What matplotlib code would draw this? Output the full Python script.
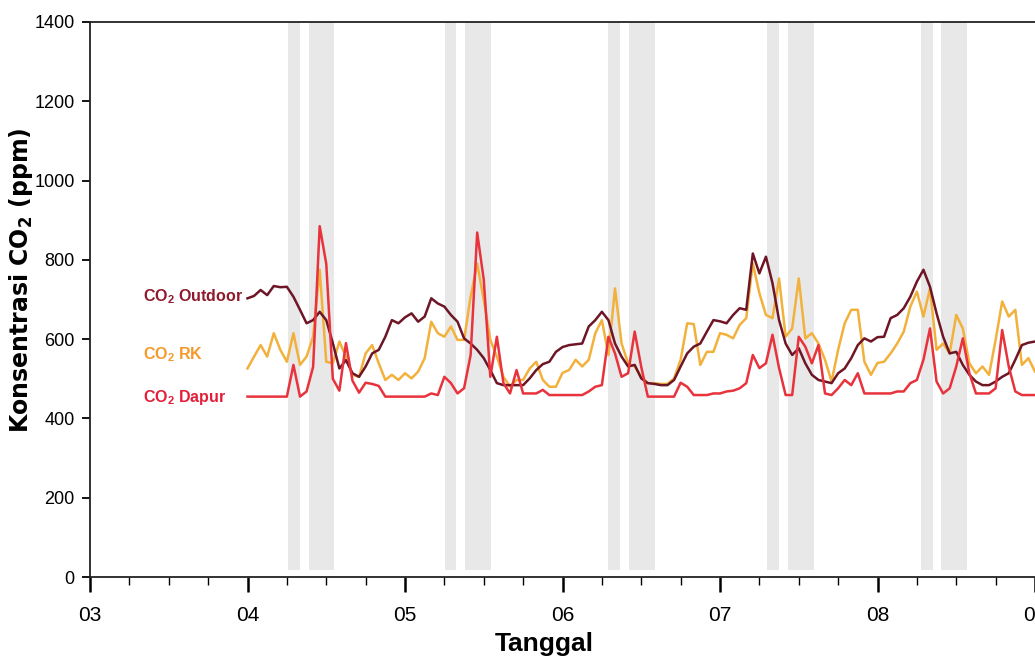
import numpy as np
import matplotlib
matplotlib.use('Agg')
import matplotlib.pyplot as plt
from matplotlib.ticker import MultipleLocator

plt.rcParams['mathtext.default'] = 'regular'

# hourly readings, 4th 00:00 -> 9th 00:00
dapur = [455, 455, 455, 455, 455, 455, 455, 535, 455, 468, 530, 885, 790, 500, 470, 590, 495, 465, 490, 487, 482, 455, 455, 455,
         455, 455, 455, 455, 463, 459, 505, 489, 463, 476, 560, 869, 750, 505, 606, 489, 463, 522, 463, 463, 463, 472, 459, 459,
         459, 459, 459, 459, 468, 480, 484, 606, 564, 505, 514, 619, 530, 455, 455, 455, 455, 455, 490, 480, 459, 459, 459, 463,
         463, 468, 470, 476, 489, 560, 527, 539, 611, 527, 459, 459, 606, 581, 539, 585, 463, 459, 476, 497, 484, 514, 463, 463,
         463, 463, 463, 468, 468, 489, 497, 548, 627, 493, 463, 476, 531, 602, 514, 463, 463, 463, 476, 623, 531, 468, 459, 459,
         459]
outdoor = [703, 709, 724, 711, 734, 731, 732, 707, 674, 640, 648, 669, 648, 590, 526, 547, 514, 505, 531, 564, 573, 606, 648, 640,
           655, 665, 644, 657, 703, 690, 682, 661, 644, 602, 589, 573, 552, 522, 489, 484, 484, 484, 484, 501, 522, 537, 543, 568,
           580, 585, 587, 589, 632, 648, 669, 648, 589, 556, 531, 535, 501, 489, 487, 484, 484, 497, 531, 564, 581, 589, 619, 648,
           645, 640, 661, 678, 674, 816, 766, 808, 741, 648, 589, 560, 577, 539, 510, 497, 493, 489, 514, 526, 552, 585, 602, 594,
           605, 606, 653, 661, 678, 707, 745, 775, 732, 665, 606, 564, 568, 535, 510, 493, 484, 484, 493, 505, 514, 548, 585, 591,
           594]
rk = [526, 556, 585, 556, 615, 573, 543, 615, 535, 556, 606, 775, 543, 539, 594, 556, 510, 505, 564, 585, 539, 497, 510, 497,
      514, 501, 518, 552, 644, 615, 606, 632, 598, 598, 707, 791, 699, 598, 556, 505, 480, 497, 497, 526, 543, 497, 480, 480,
      515, 522, 548, 531, 548, 615, 648, 560, 728, 589, 539, 531, 505, 489, 489, 487, 487, 501, 548, 640, 638, 535, 568, 568,
      615, 611, 602, 636, 653, 791, 716, 661, 653, 753, 606, 627, 753, 602, 615, 589, 548, 493, 573, 640, 674, 674, 543, 510,
      540, 543, 564, 589, 619, 682, 720, 657, 728, 573, 589, 564, 661, 627, 539, 514, 531, 510, 598, 695, 657, 674, 535, 552,
      518]

# shaded periods (day fraction)
bands = [(4.257, 4.333), (4.39, 4.549),
         (5.254, 5.324), (5.38, 5.546),
         (6.289, 6.365), (6.42, 6.587),
         (7.298, 7.375), (7.43, 7.597),
         (8.276, 8.352), (8.403, 8.568)]

day_ticks = [3, 4, 5, 6, 7, 8, 9]
day_labels = ['03', '04', '05', '06', '07', '08', '09']

font = ['Liberation Sans', 'DejaVu Sans']

t = 4 + np.arange(len(dapur)) / 24

fig = plt.figure(figsize=(10.35, 6.59), dpi=100)
ax = fig.add_axes([90 / 1035, 1 - 577 / 659, 945 / 1035, 555 / 659])

for a, b in bands:
    ax.axvspan(a, b, ymin=0.013, ymax=1, color='#e8e8e8', lw=0, zorder=0)

ax.plot(t, rk, color='#f2b13c', lw=1.8, zorder=2)
ax.plot(t, outdoor, color='#6e1526', lw=1.8, zorder=3)
ax.plot(t, dapur, color='#e8323c', lw=1.8, zorder=4)

ax.text(3.337, 706, 'CO$_2$ Outdoor', color='#8e1a2c', fontsize=11.5, family=font,
        fontweight='bold', ha='left', va='center')
ax.text(3.337, 560, 'CO$_2$ RK', color='#f39a2a', fontsize=11.5, family=font,
        fontweight='bold', ha='left', va='center')
ax.text(3.337, 454, 'CO$_2$ Dapur', color='#e21e3a', fontsize=11.5, family=font,
        fontweight='bold', ha='left', va='center')

ax.set_xlim(3, 9)
ax.set_ylim(0, 1400)
ax.set_yticks(range(0, 1401, 200))
ax.set_xticks(day_ticks)
ax.set_xticklabels(day_labels)
ax.xaxis.set_minor_locator(MultipleLocator(0.25))

for lab in ax.get_xticklabels() + ax.get_yticklabels():
    lab.set_family(font)
ax.tick_params(axis='y', labelsize=13, length=6, width=1.3, pad=5)
ax.tick_params(axis='x', which='major', labelsize=15, length=11, width=1.8, pad=10)
ax.tick_params(axis='x', which='minor', length=6, width=1.0)

ax.spines['right'].set_visible(False)
for s in ['left', 'bottom', 'top']:
    ax.spines[s].set_linewidth(1.3)
    ax.spines[s].set_color('#222222')

ax.set_ylabel('Konsentrasi CO$_2$ (ppm)', fontsize=17, fontweight='bold',
              family=['DejaVu Sans'])
ax.yaxis.set_label_coords(-0.058, 0.535)
ax.set_xlabel('Tanggal', fontsize=19, fontweight='bold', family=font)
ax.xaxis.set_label_coords(0.481, -0.1)

fig.savefig('out.png', dpi=100)
